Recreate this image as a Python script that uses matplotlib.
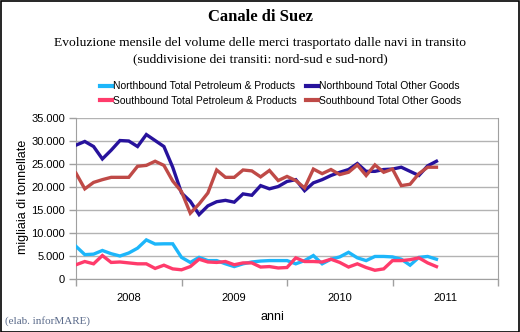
import matplotlib
matplotlib.use("Agg")
import matplotlib.pyplot as plt
from matplotlib.patches import Rectangle
from matplotlib.ticker import FuncFormatter, FixedLocator
import numpy as np

# ---- data (thousand tonnes), monthly Jan 2008 .. Jun 2011 ----
months = [f"{y}-{m:02d}" for y in range(2008, 2012) for m in range(1, 13)][:42]
north_petroleum = [7100, 5300, 5400, 6200, 5500, 5000, 5650, 6700, 8500, 7600, 7650, 7650,
                   4700, 3600, 4700, 4000, 4000, 3300, 2700, 3300, 3700, 3900,
                   4000, 4000, 4000, 3300, 4000, 5100, 3300, 4300, 4800, 5800,
                   4600, 4000, 4900, 4900, 4800, 4300, 3000, 4700, 4900, 4300]
north_other = [29100, 29900, 28800, 26100, 28000, 30100, 30000, 28800, 31400, 30100, 28800, 24300,
               18700, 16900, 14000, 15900, 16800, 17100, 16700, 18500, 18200, 20300,
               19600, 20100, 21200, 21600, 19200, 20900, 21600, 22500, 23200, 23800,
               25100, 23400, 23400, 23800, 23900, 24300, 23400, 22500, 24600, 25600]
south_petroleum = [3100, 3800, 3300, 5100, 3600, 3700, 3500, 3300, 3300, 2300, 3000, 2200,
                   2000, 2700, 4300, 3700, 3600, 3800, 3100, 3500, 3500, 2600,
                   2700, 2400, 2500, 4600, 3800, 3800, 3700, 4300, 3600, 2600,
                   3300, 2500, 1900, 2200, 4000, 4000, 4200, 4600, 3500, 2700]
south_other = [23000, 19600, 21000, 21600, 22100, 22100, 22100, 24500, 24700, 25600, 24700, 21300,
               19000, 14300, 16300, 18700, 23700, 22100, 22100, 23700, 23500, 22200,
               23600, 21400, 22300, 21400, 19800, 23900, 22900, 23800, 22700, 23200,
               24800, 22500, 24800, 23200, 23900, 20300, 20600, 22900, 24300, 24300]
series_names = ["Northbound Total Petroleum & Products", "Northbound Total Other Goods",
                "Southbound Total Petroleum & Products", "Southbound Total Other Goods"]
series_colors = ["#1DB6FA", "#27129C", "#FF3B6B", "#BF4A47"]
year_labels = ["2008", "2009", "2010", "2011"]
yticks = [0, 5000, 10000, 15000, 20000, 25000, 30000, 35000]

W, H = 520, 332
fig = plt.figure(figsize=(W / 100, H / 100), dpi=100)
fig.patch.set_facecolor("white")
fig.add_artist(Rectangle((0.5 / W, 0.5 / H), 1 - 1.5 / W, 1 - 1.5 / H, transform=fig.transFigure,
                         fill=False, edgecolor="black", linewidth=1.2))

L, R, T, B = 76, 498, 118, 279
ax = fig.add_axes([L / W, 1 - B / H, (R - L) / W, (B - T) / H])

x = np.arange(len(months))
data = [north_petroleum, north_other, south_petroleum, south_other]
handles = []
for vals, name, col in zip(data, series_names, series_colors):
    h, = ax.plot(x, vals, color=col, lw=2.4, solid_joinstyle="miter", label=name, zorder=3)
    handles.append(h)

ax.set_xlim(0, 48)
ax.set_ylim(0, 35000)
ax.set_yticks(yticks)
ax.yaxis.set_major_formatter(FuncFormatter(lambda v, p: "0" if v == 0 else f"{int(v):,}".replace(",", ".")))
ax.xaxis.set_major_locator(FixedLocator([0, 12, 24, 36, 48]))
ax.xaxis.set_minor_locator(FixedLocator([6, 18, 30, 42]))
ax.set_xticklabels([], minor=False)
ax.set_xticklabels(year_labels, minor=True)
ax.tick_params(axis="x", which="minor", length=0, pad=10, labelsize=8)
ax.tick_params(axis="x", which="major", length=5, color="#A0A0A0", width=1)
ax.tick_params(axis="y", length=5, color="#A0A0A0", width=1, labelsize=8, pad=3)
ax.grid(axis="y", color="#B3B3B3", lw=1)
ax.spines["top"].set_visible(False)
for s in ["left", "bottom", "right"]:
    ax.spines[s].set_color("#A0A0A0")
for lab in ax.get_yticklabels() + ax.get_xticklabels(minor=True):
    lab.set_fontfamily("Liberation Sans")

fig.text(23 / W, 1 - 197 / H, "migliaia di tonnellate", rotation=90, ha="center", va="center",
         fontsize=9, family="Liberation Sans")
fig.text(272 / W, 1 - 317 / H, "anni", ha="center", va="center", fontsize=9, family="Liberation Sans")
fig.text(260 / W, 1 - 17 / H, "Canale di Suez", ha="center", va="center", fontsize=12,
         fontweight="bold", family="Liberation Serif")
fig.text(260 / W, 1 - 43 / H, "Evoluzione mensile del volume delle merci trasportato dalle navi in transito",
         ha="center", va="center", fontsize=9.7, family="Liberation Serif")
fig.text(260 / W, 1 - 59 / H, "(suddivisione dei transiti: nord-sud e sud-nord)",
         ha="center", va="center", fontsize=9.7, family="Liberation Serif")
fig.text(5 / W, 1 - 321 / H, "(elab. inforMARE)", ha="left", va="center", fontsize=8,
         family="Liberation Serif", color="#5A6A8A")

# column-major fill: rows = (N petroleum, N other), (S petroleum, S other)
leg_order = [0, 2, 1, 3]
leg = fig.legend(handles=[handles[i] for i in leg_order], loc="center",
                 bbox_to_anchor=(281 / W, 1 - 93.5 / H), ncol=2,
                 frameon=False, handlelength=1.1, handletextpad=0.15, columnspacing=0.9,
                 labelspacing=0.45, prop={"family": "Liberation Sans", "size": 7.5})
for lh in leg.get_lines():
    lh.set_linewidth(3)

fig.savefig("out.png", dpi=100)
